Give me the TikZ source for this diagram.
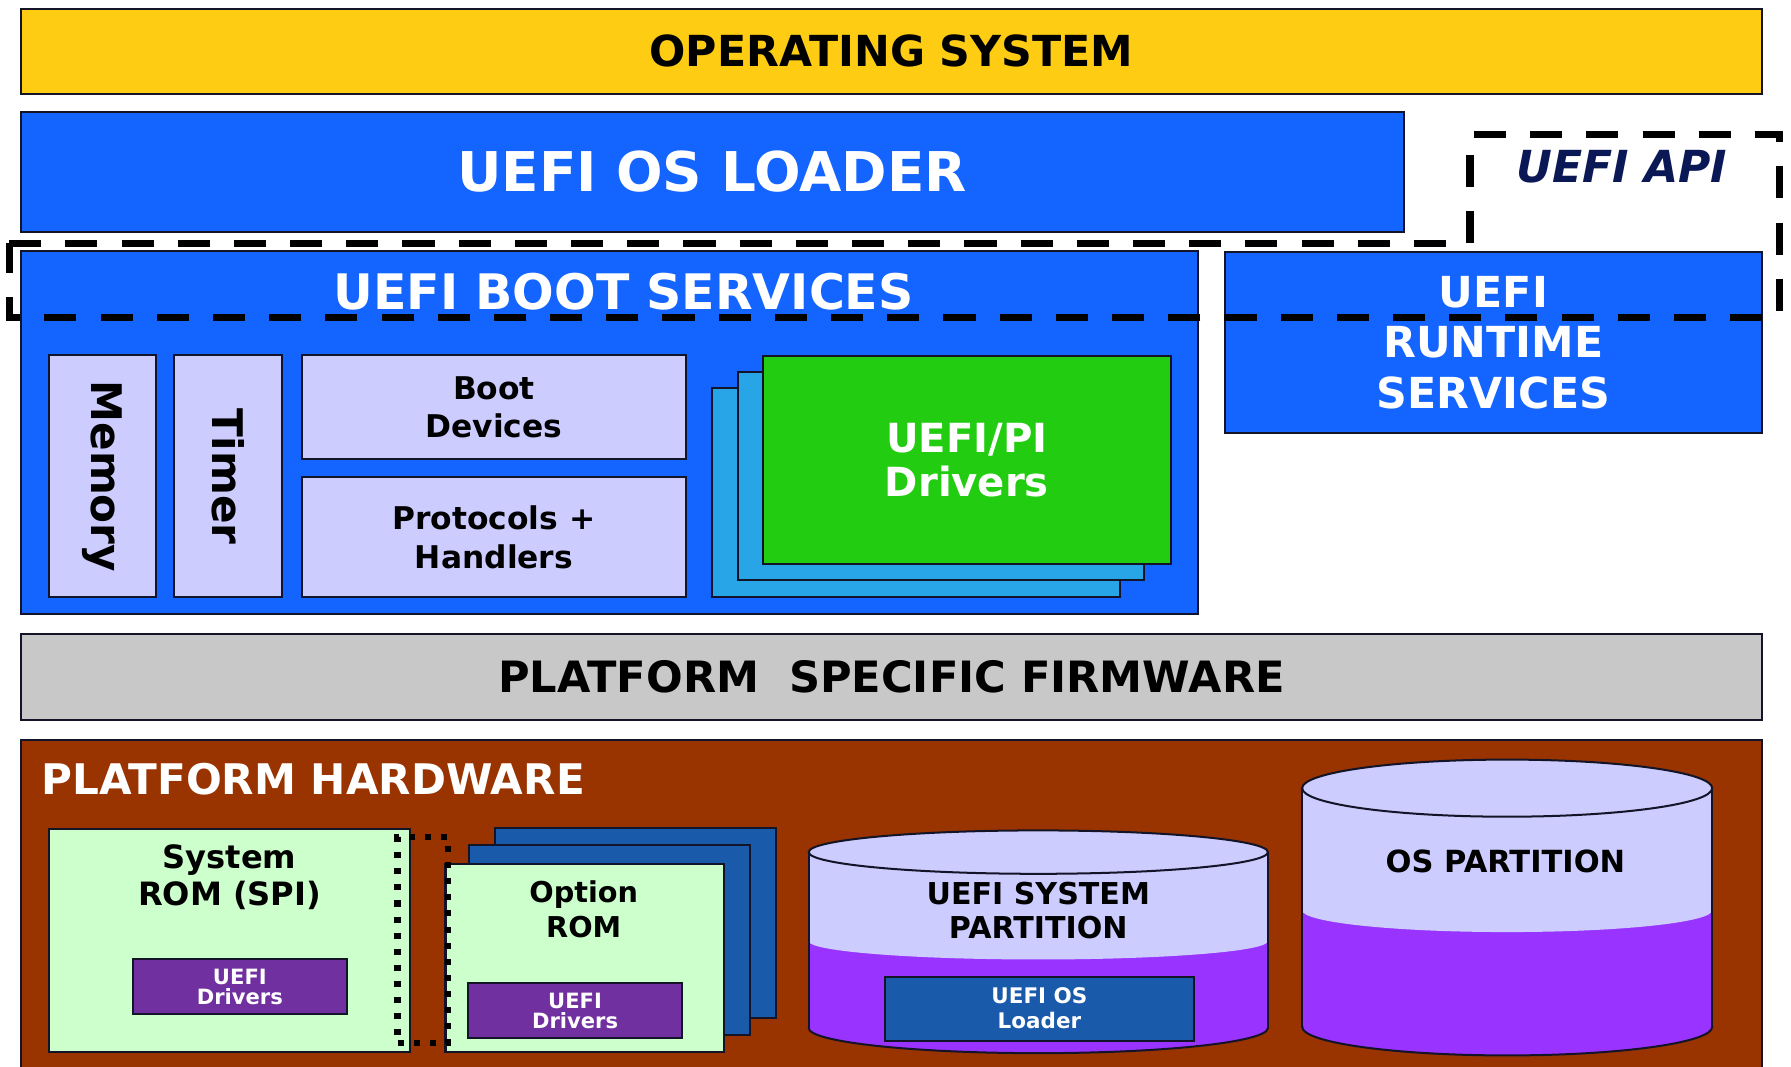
\documentclass[tikz,border=0pt]{standalone}
\usepackage{fontspec}
\setmainfont{DejaVu Sans}
\usetikzlibrary{positioning}

\definecolor{osyellow}{RGB}{255,204,20}
\definecolor{uefiblue}{RGB}{20,100,255}
\definecolor{drvgreen}{RGB}{34,204,17}
\definecolor{lavender}{RGB}{204,204,255}
\definecolor{cardblue}{RGB}{40,165,230}
\definecolor{fwgray}{RGB}{200,200,200}
\definecolor{hwbrown}{RGB}{153,51,0}
\definecolor{romgreen}{RGB}{204,255,204}
\definecolor{drvpurple}{RGB}{112,48,160}
\definecolor{romblue}{RGB}{25,90,170}
\definecolor{diskpurple}{RGB}{153,51,255}
\definecolor{apinavy}{RGB}{10,25,85}
\definecolor{edge}{RGB}{20,20,40}

\tikzset{
  box/.style={draw=edge, line width=1pt, inner sep=0pt, align=center},
  fs/.style 2 args={font=\fontsize{#1}{#2}\selectfont\bfseries},
  apiline/.style={line width=3.6pt, dash pattern=on 16pt off 12pt},
  romlink/.style={draw=black, line width=3pt, dash pattern=on 3pt off 5pt, inner sep=0pt},
}

\begin{document}
\begin{tikzpicture}[x=0.02cm, y=-0.02cm]
\useasboundingbox (0,0) rectangle (1568,934);

% os and loader
\node[box, fill=osyellow, minimum width=30.5cm, minimum height=1.48cm, fs={21.3}{25}] (os) at (780.5,45) {OPERATING SYSTEM};
\node[box, fill=uefiblue, text=white, minimum width=24.22cm, minimum height=2.1cm, fs={27.3}{30}] (loader) at (623.5,150.5) {UEFI OS LOADER};

% boot services
\node[box, fill=uefiblue, minimum width=20.62cm, minimum height=6.36cm] (boot) at (533.5,379) {};
\node[text=white, fs={24.4}{28}] (boottitle) at (546,255) {UEFI BOOT SERVICES};
\node[box, fill=uefiblue, text=white, minimum width=9.42cm, minimum height=3.16cm, fs={21.3}{25.3}] (runtime) at (1307.5,300) {UEFI\\RUNTIME\\SERVICES};

\node[box, fill=lavender, minimum width=1.88cm, minimum height=4.24cm] (memory) at (90,417) {};
\node[rotate=-90, fs={21}{25}] (memlabel) at (memory) {Memory};
\node[box, fill=lavender, minimum width=1.9cm, minimum height=4.24cm] (timer) at (199.5,417) {};
\node[rotate=-90, fs={21}{25}] (timerlabel) at (timer) {Timer};
\node[box, fill=lavender, minimum width=6.74cm, minimum height=1.82cm, fs={15.6}{19.3}] (bootdev) at (432.5,356.5) {Boot\\Devices};
\node[box, fill=lavender, minimum width=6.74cm, minimum height=2.1cm, fs={15.6}{19.3}] (protocols) at (432.5,470.5) {Protocols +\\Handlers};

% driver stack
\node[box, fill=cardblue, minimum width=7.16cm, minimum height=3.66cm] (card2) at (802,431.5) {};
\node[box, fill=cardblue, minimum width=7.12cm, minimum height=3.64cm] (card1) at (824,417) {};
\node[box, fill=drvgreen, text=white, minimum width=7.14cm, minimum height=3.64cm, fs={20}{22}] (drivers) at (846.5,403) {UEFI/PI\\Drivers};

% firmware
\node[box, fill=fwgray, minimum width=30.5cm, minimum height=1.5cm, fs={21.5}{25}] (firmware) at (780.5,592.5) {PLATFORM\ \ SPECIFIC FIRMWARE};

% hardware
\node[box, fill=hwbrown, minimum width=30.5cm, minimum height=5.84cm] (hardware) at (780.5,794) {};
\node[anchor=west, inner sep=0pt, text=white, fs={21}{25}] (hwtitle) at (36,682) {PLATFORM HARDWARE};

\node[box, fill=romgreen, minimum width=6.32cm, minimum height=3.9cm] (sysrom) at (201,823.5) {};
\node[fs={16}{18.8}, align=center] (sysromtext) at (201,768) {System\\ROM (SPI)};
\node[box, fill=drvpurple, text=white, minimum width=3.76cm, minimum height=0.96cm, fs={10.5}{9.7}] (sysdrv) at (210,864) {UEFI\\Drivers};

\node[box, fill=romblue, minimum width=4.92cm, minimum height=3.32cm] (rom2) at (556,808) {};
\node[box, fill=romblue, minimum width=4.92cm, minimum height=3.32cm] (rom1) at (534,823) {};
\node[box, fill=romgreen, minimum width=4.88cm, minimum height=3.3cm] (optrom) at (512,838.5) {};
\node[fs={14.3}{17.6}, align=center] (optromtext) at (511,796) {Option\\ROM};
\node[box, fill=drvpurple, text=white, minimum width=3.74cm, minimum height=0.96cm, fs={10.5}{9.7}] (optdrv) at (503.5,885) {UEFI\\Drivers};

\node[romlink, minimum width=0.88cm, minimum height=3.6cm] (link) at (370,823) {};

% uefi system partition
\fill[diskpurple] (708,824) rectangle (1110,900);
\fill[diskpurple] (909,900) ellipse[x radius=201, y radius=22];
\fill[lavender] (708,746) rectangle (1110,824);
\fill[lavender] (909,824) ellipse[x radius=201, y radius=16];
\draw[edge, line width=1pt, fill=lavender] (909,746) ellipse[x radius=201, y radius=19];
\draw[edge, line width=1pt] (708,746) -- (708,900) (1110,746) -- (1110,900);
\begin{scope}
  \clip (700,900) rectangle (1120,934);
  \draw[edge, line width=1pt] (909,900) ellipse[x radius=201, y radius=22];
\end{scope}
\node[fs={15}{17}, align=center] (esptext) at (909,797) {UEFI SYSTEM\\PARTITION};
\node[box, fill=romblue, text=white, minimum width=5.4cm, minimum height=1.12cm, fs={10.7}{12.5}] (esploader) at (910,883) {UEFI OS\\Loader};

% os partition
\fill[diskpurple] (1140,797) rectangle (1499,899);
\fill[diskpurple] (1319.5,899) ellipse[x radius=179.5, y radius=25];
\fill[lavender] (1140,690) rectangle (1499,797);
\fill[lavender] (1319.5,797) ellipse[x radius=179.5, y radius=19];
\draw[edge, line width=1pt, fill=lavender] (1319.5,690) ellipse[x radius=179.5, y radius=25];
\draw[edge, line width=1pt] (1140,690) -- (1140,899) (1499,690) -- (1499,899);
\begin{scope}
  \clip (1130,899) rectangle (1510,934);
  \draw[edge, line width=1pt] (1319.5,899) ellipse[x radius=179.5, y radius=25];
\end{scope}
\node[fs={15.2}{18}] (osparttext) at (1318,754) {OS PARTITION};

% uefi api outline
\draw[apiline] (8,213) -- (1287,213) -- (1287,118) -- (1558,118) -- (1558,278) -- (8,278) -- cycle;
\node[text=apinavy, font=\fontsize{22}{26}\selectfont\bfseries\itshape] (api) at (1420,146) {UEFI API};

\end{tikzpicture}
\end{document}
